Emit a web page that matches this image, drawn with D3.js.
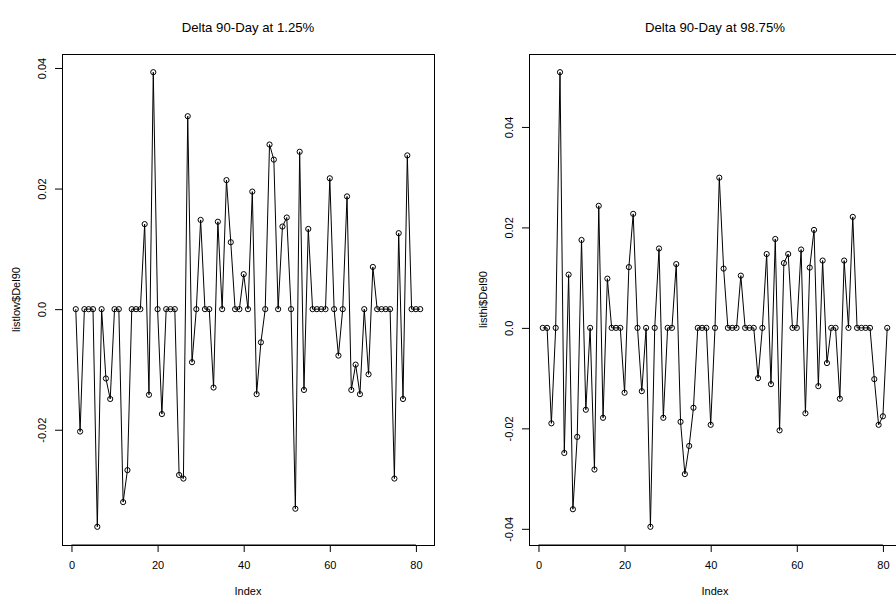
<!DOCTYPE html>
<html>
<head>
<meta charset="utf-8">
<script src="https://cdn.jsdelivr.net/npm/d3@7"></script>
<style>
  body { margin: 0; background: #fff; }
  text { font-family: "Liberation Sans", Arial, sans-serif; fill: #000; }
</style>
</head>
<body>
<script>
// Delta 90-day series, index 1..81
var lowValues = [
  0, -0.0203, 0, 0, 0, -0.0361, 0, -0.0115, -0.0149, 0,
  0, -0.0320, -0.0267, 0, 0, 0, 0.0141, -0.0142, 0.0393, 0,
  -0.0174, 0, 0, 0, -0.0275, -0.0281, 0.0320, -0.0088, 0, 0.0148,
  0, 0, -0.0130, 0.0145, 0, 0.0214, 0.0111, 0, 0, 0.0058,
  0, 0.0195, -0.0141, -0.0055, 0, 0.0273, 0.0248, 0, 0.0137, 0.0152,
  0, -0.0331, 0.0261, -0.0134, 0.0133, 0, 0, 0, 0, 0.0217,
  0, -0.0077, 0, 0.0187, -0.0134, -0.0092, -0.0141, 0, -0.0108, 0.0070,
  0, 0, 0, 0, -0.0281, 0.0126, -0.0149, 0.0255, 0, 0,
  0
];
var hiValues = [
  0, 0, -0.0190, 0, 0.0509, -0.0249, 0.0106, -0.0361, -0.0217, 0.0175,
  -0.0163, 0, -0.0282, 0.0243, -0.0179, 0.0098, 0, 0, 0, -0.0129,
  0.0121, 0.0227, 0, -0.0126, 0, -0.0396, 0, 0.0158, -0.0179, 0,
  0, 0.0127, -0.0187, -0.0291, -0.0235, -0.0159, 0, 0, 0, -0.0193,
  0, 0.0299, 0.0118, 0, 0, 0, 0.0104, 0, 0, 0,
  -0.0100, 0, 0.0147, -0.0112, 0.0177, -0.0204, 0.0129, 0.0147, 0, 0,
  0.0156, -0.0170, 0.0120, 0.0195, -0.0116, 0.0134, -0.0070, 0, 0, -0.0141,
  0.0134, 0, 0.0221, 0, 0, 0, 0, -0.0102, -0.0193, -0.0176,
  0
];

var xTicks = [0, 20, 40, 60, 80];
var lowYTicks = [-0.02, 0, 0.02, 0.04];
var lowYLabels = ['-0.02', '0.0', '0.02', '0.04'];
var hiYTicks = [-0.04, -0.02, 0, 0.02, 0.04];
var hiYLabels = ['-0.04', '-0.02', '0.0', '0.02', '0.04'];

var width = 896;
var height = 604;
var boxW = 372;
var boxTop = 54;
var boxBottom = 545;

var svg = d3.select('body').append('svg')
  .attr('width', width)
  .attr('height', height);

// R style 4% axis extension
var padRange = function(ext) {
  var d = (ext[1] - ext[0]) * 0.04;
  return [ext[0] - d, ext[1] + d];
};

var drawPanel = function(opts) {
  var left = opts.left;
  var values = opts.values;
  var data = values.map(function(v, i) { return { i: i + 1, v: v }; });

  var xScale = d3.scaleLinear()
    .domain(padRange([1, values.length]))
    .range([left, left + boxW]);
  var yScale = d3.scaleLinear()
    .domain(padRange(d3.extent(values)))
    .range([boxBottom, boxTop]);

  var g = svg.append('g');

  // x axis
  var xAxis = g.append('g')
    .attr('transform', 'translate(0,' + boxBottom + ')')
    .call(d3.axisBottom(xScale).tickValues(xTicks).tickSize(7).tickSizeOuter(0));
  xAxis.select('.domain').remove();
  xAxis.selectAll('text')
    .attr('y', 20)
    .attr('dy', '0.35em')
    .style('font-size', '11px')
    .style('font-family', '"Liberation Sans", Arial, sans-serif');
  xAxis.append('line')
    .attr('x1', xScale(xTicks[0])).attr('x2', xScale(xTicks[xTicks.length - 1]))
    .attr('stroke', '#000');

  // y axis
  var yAxis = g.append('g')
    .attr('transform', 'translate(' + left + ',0)')
    .call(d3.axisLeft(yScale).tickValues(opts.yTicks)
      .tickFormat(function(d, i) { return opts.yLabels[i]; })
      .tickSize(7).tickSizeOuter(0));
  yAxis.select('.domain').remove();
  yAxis.selectAll('text')
    .attr('transform', 'rotate(-90)')
    .attr('x', 0)
    .attr('y', -20)
    .attr('dy', '0.35em')
    .style('text-anchor', 'middle')
    .style('font-size', '11px')
    .style('font-family', '"Liberation Sans", Arial, sans-serif');

  // plot box
  g.append('rect')
    .attr('x', left + 0.5).attr('y', boxTop + 0.5)
    .attr('width', boxW).attr('height', boxBottom - boxTop)
    .attr('fill', 'none').attr('stroke', '#000');

  var line = d3.line()
    .x(function(d) { return xScale(d.i); })
    .y(function(d) { return yScale(d.v); });

  g.append('path')
    .datum(data)
    .attr('d', line)
    .attr('fill', 'none')
    .attr('stroke', '#000')
    .attr('stroke-width', 1);

  g.selectAll('circle')
    .data(data)
    .enter().append('circle')
    .attr('cx', function(d) { return xScale(d.i); })
    .attr('cy', function(d) { return yScale(d.v); })
    .attr('r', 2.6)
    .attr('fill', 'none')
    .attr('stroke', '#000')
    .attr('stroke-width', 1);

  // titles
  g.append('text')
    .attr('x', left + boxW / 2).attr('y', 27)
    .attr('dy', '0.35em')
    .attr('text-anchor', 'middle')
    .style('font-size', '13.2px')
    .text(opts.title);

  g.append('text')
    .attr('x', left + boxW / 2).attr('y', 591)
    .attr('dy', '0.35em')
    .attr('text-anchor', 'middle')
    .style('font-size', '11px')
    .text('Index');

  var ly = (boxTop + boxBottom) / 2;
  g.append('text')
    .attr('transform', 'translate(' + (left - 46) + ',' + ly + ') rotate(-90)')
    .attr('dy', '0.35em')
    .attr('text-anchor', 'middle')
    .style('font-size', '11px')
    .text(opts.ylab);
};

drawPanel({
  left: 62,
  values: lowValues,
  yTicks: lowYTicks,
  yLabels: lowYLabels,
  title: 'Delta 90-Day at 1.25%',
  ylab: 'listlow$Del90'
});

drawPanel({
  left: 529,
  values: hiValues,
  yTicks: hiYTicks,
  yLabels: hiYLabels,
  title: 'Delta 90-Day at 98.75%',
  ylab: 'listhi$Del90'
});
</script>
</body>
</html>
